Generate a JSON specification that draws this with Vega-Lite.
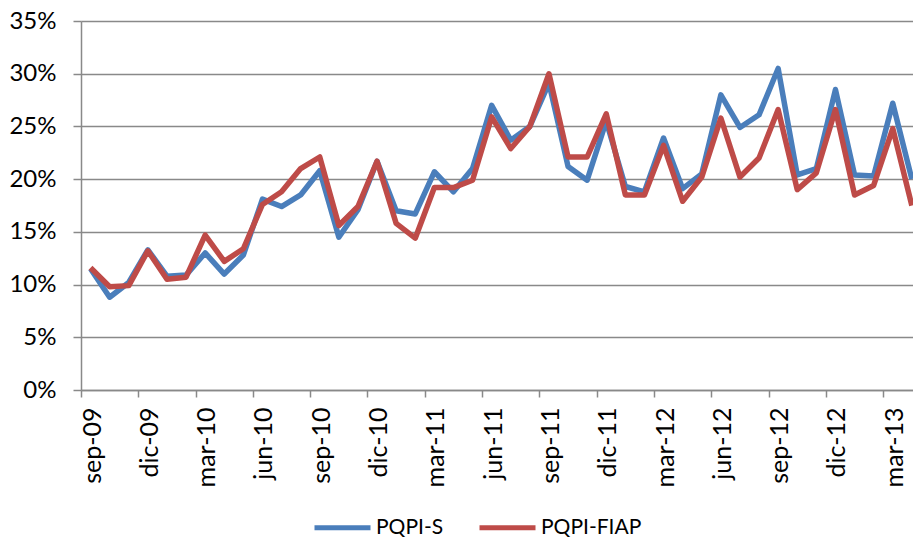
{
  "$schema": "https://vega.github.io/schema/vega-lite/v6.json",
  "autosize": {"type": "none"},
  "width": 832,
  "height": 369,
  "padding": {"left": 81, "top": 21, "right": 0, "bottom": 147},
  "background": "white",
  "config": {"view": {"stroke": null}, "font": "Lato"},
  "data": {
    "values": [
      {"mes": "sep-09", "PQPI-S": 0.115, "PQPI-FIAP": 0.116},
      {"mes": "oct-09", "PQPI-S": 0.088, "PQPI-FIAP": 0.098},
      {"mes": "nov-09", "PQPI-S": 0.102, "PQPI-FIAP": 0.099},
      {"mes": "dic-09", "PQPI-S": 0.133, "PQPI-FIAP": 0.132},
      {"mes": "ene-10", "PQPI-S": 0.108, "PQPI-FIAP": 0.105},
      {"mes": "feb-10", "PQPI-S": 0.109, "PQPI-FIAP": 0.107},
      {"mes": "mar-10", "PQPI-S": 0.130, "PQPI-FIAP": 0.147},
      {"mes": "abr-10", "PQPI-S": 0.110, "PQPI-FIAP": 0.122},
      {"mes": "may-10", "PQPI-S": 0.128, "PQPI-FIAP": 0.134},
      {"mes": "jun-10", "PQPI-S": 0.181, "PQPI-FIAP": 0.176},
      {"mes": "jul-10", "PQPI-S": 0.174, "PQPI-FIAP": 0.188},
      {"mes": "ago-10", "PQPI-S": 0.185, "PQPI-FIAP": 0.210},
      {"mes": "sep-10", "PQPI-S": 0.208, "PQPI-FIAP": 0.221},
      {"mes": "oct-10", "PQPI-S": 0.145, "PQPI-FIAP": 0.156},
      {"mes": "nov-10", "PQPI-S": 0.171, "PQPI-FIAP": 0.174},
      {"mes": "dic-10", "PQPI-S": 0.217, "PQPI-FIAP": 0.217},
      {"mes": "ene-11", "PQPI-S": 0.170, "PQPI-FIAP": 0.158},
      {"mes": "feb-11", "PQPI-S": 0.167, "PQPI-FIAP": 0.144},
      {"mes": "mar-11", "PQPI-S": 0.207, "PQPI-FIAP": 0.192},
      {"mes": "abr-11", "PQPI-S": 0.188, "PQPI-FIAP": 0.192},
      {"mes": "may-11", "PQPI-S": 0.210, "PQPI-FIAP": 0.199},
      {"mes": "jun-11", "PQPI-S": 0.270, "PQPI-FIAP": 0.259},
      {"mes": "jul-11", "PQPI-S": 0.237, "PQPI-FIAP": 0.229},
      {"mes": "ago-11", "PQPI-S": 0.250, "PQPI-FIAP": 0.250},
      {"mes": "sep-11", "PQPI-S": 0.291, "PQPI-FIAP": 0.300},
      {"mes": "oct-11", "PQPI-S": 0.212, "PQPI-FIAP": 0.221},
      {"mes": "nov-11", "PQPI-S": 0.199, "PQPI-FIAP": 0.221},
      {"mes": "dic-11", "PQPI-S": 0.255, "PQPI-FIAP": 0.262},
      {"mes": "ene-12", "PQPI-S": 0.193, "PQPI-FIAP": 0.185},
      {"mes": "feb-12", "PQPI-S": 0.188, "PQPI-FIAP": 0.185},
      {"mes": "mar-12", "PQPI-S": 0.239, "PQPI-FIAP": 0.232},
      {"mes": "abr-12", "PQPI-S": 0.191, "PQPI-FIAP": 0.179},
      {"mes": "may-12", "PQPI-S": 0.205, "PQPI-FIAP": 0.202},
      {"mes": "jun-12", "PQPI-S": 0.280, "PQPI-FIAP": 0.258},
      {"mes": "jul-12", "PQPI-S": 0.249, "PQPI-FIAP": 0.202},
      {"mes": "ago-12", "PQPI-S": 0.261, "PQPI-FIAP": 0.220},
      {"mes": "sep-12", "PQPI-S": 0.305, "PQPI-FIAP": 0.266},
      {"mes": "oct-12", "PQPI-S": 0.204, "PQPI-FIAP": 0.190},
      {"mes": "nov-12", "PQPI-S": 0.210, "PQPI-FIAP": 0.206},
      {"mes": "dic-12", "PQPI-S": 0.285, "PQPI-FIAP": 0.266},
      {"mes": "ene-13", "PQPI-S": 0.204, "PQPI-FIAP": 0.185},
      {"mes": "feb-13", "PQPI-S": 0.203, "PQPI-FIAP": 0.194},
      {"mes": "mar-13", "PQPI-S": 0.272, "PQPI-FIAP": 0.248},
      {"mes": "abr-13", "PQPI-S": 0.200, "PQPI-FIAP": 0.175}
    ]
  },
  "transform": [{"fold": ["PQPI-S", "PQPI-FIAP"], "as": ["serie", "valor"]}],
  "mark": {"type": "line", "strokeWidth": 5.5, "clip": true, "strokeJoin": "round", "strokeCap": "butt"},
  "encoding": {
    "x": {
      "field": "mes",
      "type": "ordinal",
      "sort": null,
      "scale": {
        "type": "point",
        "padding": 0.5,
        "range": [0, 840.4],
        "domain": ["sep-09","oct-09","nov-09","dic-09","ene-10","feb-10","mar-10","abr-10","may-10","jun-10","jul-10","ago-10","sep-10","oct-10","nov-10","dic-10","ene-11","feb-11","mar-11","abr-11","may-11","jun-11","jul-11","ago-11","sep-11","oct-11","nov-11","dic-11","ene-12","feb-12","mar-12","abr-12","may-12","jun-12","jul-12","ago-12","sep-12","oct-12","nov-12","dic-12","ene-13","feb-13","mar-13","abr-13"]
      },
      "axis": {
        "title": null,
        "values": ["sep-09","dic-09","mar-10","jun-10","sep-10","dic-10","mar-11","jun-11","sep-11","dic-11","mar-12","jun-12","sep-12","dic-12","mar-13"],
        "labelAngle": -90,
        "labelFontSize": 25,
        "labelColor": "#000000",
        "labelPadding": 10,
        "tickSize": 7,
        "tickOffset": -9.55,
        "labelOffset": 11,
        "tickColor": "#898989",
        "tickWidth": 1.5,
        "domainColor": "#898989",
        "domainWidth": 1.5,
        "grid": false
      }
    },
    "y": {
      "field": "valor",
      "type": "quantitative",
      "scale": {"domain": [0, 0.35], "nice": false},
      "axis": {
        "title": null,
        "values": [0, 0.05, 0.1, 0.15, 0.2, 0.25, 0.3, 0.35],
        "format": ".0%",
        "labelFontSize": 24,
        "labelColor": "#000000",
        "labelPadding": 17,
        "tickSize": 8,
        "tickColor": "#898989",
        "tickWidth": 1.5,
        "domainColor": "#898989",
        "domainWidth": 1.5,
        "grid": true,
        "gridColor": "#898989",
        "gridWidth": 1.5
      }
    },
    "color": {
      "field": "serie",
      "type": "nominal",
      "scale": {"domain": ["PQPI-S", "PQPI-FIAP"], "range": ["#4A7EBB", "#BE4B48"]},
      "legend": {
        "title": null,
        "orient": "none",
        "direction": "horizontal",
        "legendX": 231,
        "legendY": 476,
        "symbolType": "stroke",
        "symbolSize": 3136,
        "symbolStrokeWidth": 5,
        "labelFontSize": 21,
        "labelColor": "#000000",
        "labelOffset": 3,
        "columnPadding": 25
      }
    }
  }
}
